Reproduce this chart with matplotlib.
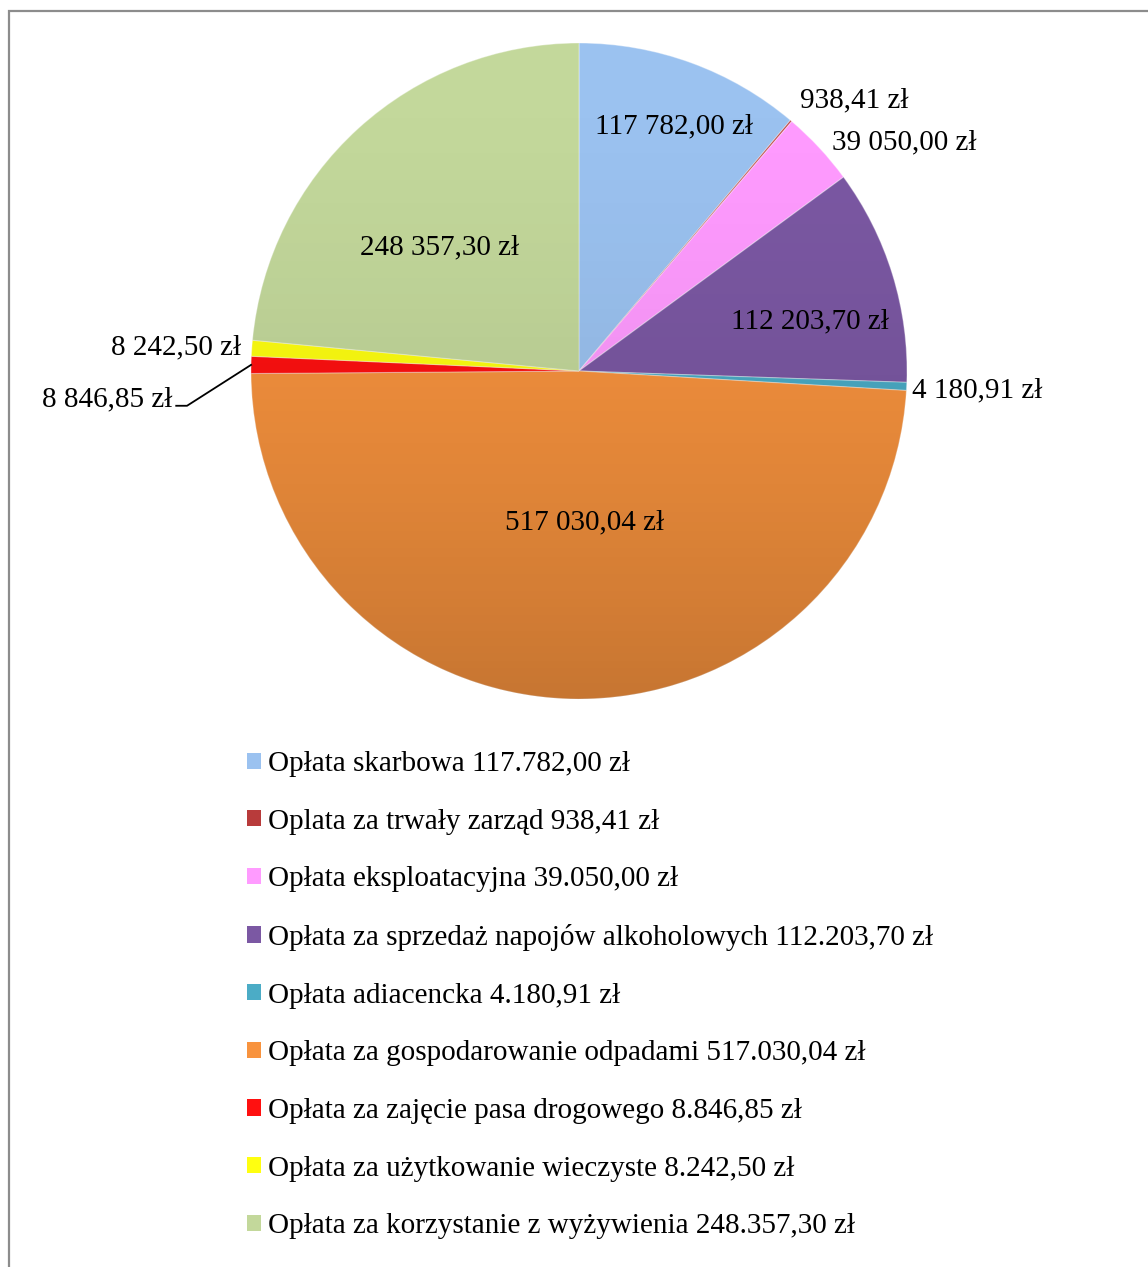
import numpy as np
import matplotlib.pyplot as plt
from matplotlib.patches import Patch, Rectangle, Circle

plt.rcParams['font.family'] = ['Liberation Serif', 'DejaVu Serif']

# values (zł) in chart order, clockwise from the top
values = [117782.00, 938.41, 39050.00, 112203.70, 4180.91,
          517030.04, 8846.85, 8242.50, 248357.30]
slice_labels = ['117 782,00 zł', '938,41 zł', '39 050,00 zł', '112 203,70 zł',
                '4 180,91 zł', '517 030,04 zł', '8 846,85 zł', '8 242,50 zł',
                '248 357,30 zł']
legend_labels = [
    'Opłata skarbowa 117.782,00 zł',
    'Oplata za trwały zarząd 938,41 zł',
    'Opłata eksploatacyjna 39.050,00 zł',
    'Opłata za sprzedaż napojów alkoholowych 112.203,70 zł',
    'Opłata adiacencka 4.180,91 zł',
    'Opłata za gospodarowanie odpadami 517.030,04 zł',
    'Opłata za zajęcie pasa drogowego 8.846,85 zł',
    'Opłata za użytkowanie wieczyste 8.242,50 zł',
    'Opłata za korzystanie z wyżywienia 248.357,30 zł',
]
colors = ['#9BC2F0', '#B83B3B', '#FF9BFF', '#7B58A3', '#4BACC6',
          '#F8933E', '#FF1010', '#FFFF10', '#C3D89B']

W, H = 1148, 1267
fig = plt.figure(figsize=(W / 100, H / 100), dpi=100)

# outer chart border (right and bottom edges are cut off in the original)
fig.add_artist(Rectangle((8.5 / W, -0.1), 1.2, 1.1 - 10.5 / H,
                         transform=fig.transFigure, fill=False,
                         edgecolor='#8C8C8C', linewidth=1.6))

# pie axes: centre (579, 371) px, radius 328 px
R = 328
cx, cy = 579, 371
half = 420
ax = fig.add_axes([(cx - half) / W, (H - cy - half) / H, 2 * half / W, 2 * half / H])

wedges, _ = ax.pie(values, colors=colors, startangle=90, counterclock=False,
                   radius=1, wedgeprops=dict(edgecolor=(1, 1, 1, 0.35), linewidth=0.8))

# soft vertical shading to mimic the bevelled look
grad = np.zeros((200, 2, 4))
t = np.linspace(0, 1, 200)[:, None]
grad[..., 3] = 0.2 * t ** 1.8
shade = ax.imshow(grad, extent=[-1, 1, -1, 1], aspect='auto', zorder=3,
                  interpolation='bilinear')
shade.set_clip_path(Circle((0, 0), 1, transform=ax.transData))
ax.set_xlim(-half / R, half / R)
ax.set_ylim(-half / R, half / R)
ax.set_aspect('equal')
ax.axis('off')

# label placement (in pie-radius units)
fs = 21
label_pos = {
    0: (0.290, 0.745, 'center'),
    1: (0.838, 0.825, 'center'),
    2: (0.992, 0.697, 'center'),
    3: (0.703, 0.150, 'center'),
    4: (1.016, -0.058, 'left'),
    5: (0.018, -0.460, 'center'),
    6: (-1.24, -0.085, 'right'),
    7: (-1.03, 0.072, 'right'),
    8: (-0.424, 0.378, 'center'),
}
for i, (x, y, ha) in label_pos.items():
    ax.text(x, y, slice_labels[i], ha=ha, va='center', fontsize=fs, zorder=5)

# leader line for the small red slice
mid = np.deg2rad((wedges[6].theta1 + wedges[6].theta2) / 2)
ax.plot([-1.228, -1.195, np.cos(mid)], [-0.106, -0.106, np.sin(mid)],
        color='black', lw=1.3)

# legend
handles = [Patch(facecolor=c, edgecolor='none') for c in colors]
fig.legend(handles, legend_labels, loc='upper left',
           bbox_to_anchor=(247 / W, 1 - 751 / H), frameon=False,
           prop=dict(size=fs), handlelength=0.48, handleheight=0.48,
           handletextpad=0.25, labelspacing=1.085, borderpad=0, borderaxespad=0)

fig.savefig('out.png', dpi=100, facecolor='white')
